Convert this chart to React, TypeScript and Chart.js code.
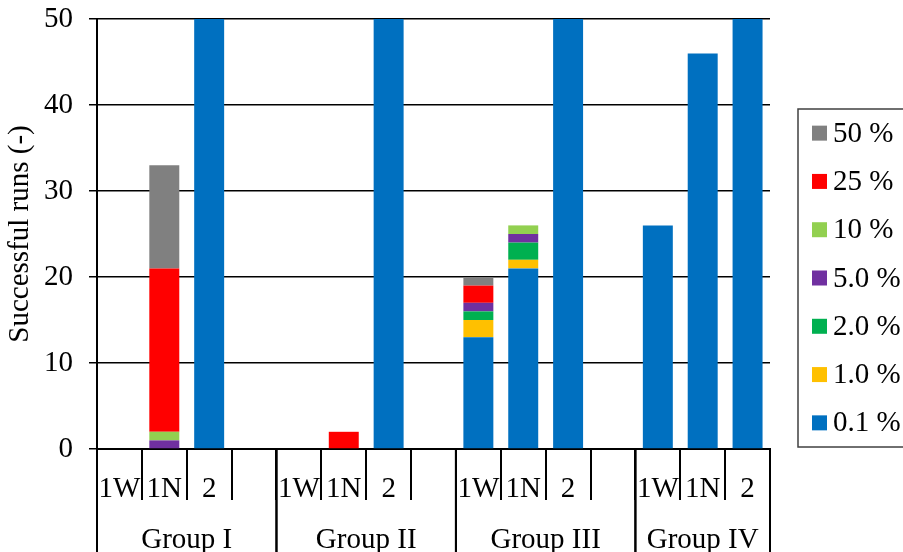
import React, { useEffect, useRef } from "react";
import { Chart, registerables } from "chart.js";

Chart.register(...registerables);

const categories = [
  "1W", "1N", "2", "",
  "1W", "1N", "2", "",
  "1W", "1N", "2", "",
  "1W", "1N", "2",
];
const groups = ["Group I", "Group II", "Group III", "Group IV"];
const groupSizes = [4, 4, 4, 3];

const s01 = [0, 0, 50, 0, 0, 0, 50, 0, 13, 21, 50, 0, 26, 46, 50];
const s10 = [0, 0, 0, 0, 0, 0, 0, 0, 2, 1, 0, 0, 0, 0, 0];
const s20 = [0, 0, 0, 0, 0, 0, 0, 0, 1, 2, 0, 0, 0, 0, 0];
const s50 = [0, 1, 0, 0, 0, 0, 0, 0, 1, 1, 0, 0, 0, 0, 0];
const s100 = [0, 1, 0, 0, 0, 0, 0, 0, 0, 1, 0, 0, 0, 0, 0];
const s250 = [0, 19, 0, 0, 0, 2, 0, 0, 2, 0, 0, 0, 0, 0, 0];
const s500 = [0, 12, 0, 0, 0, 0, 0, 0, 1, 0, 0, 0, 0, 0, 0];

const seriesLabels = ["0.1 %", "1.0 %", "2.0 %", "5.0 %", "10 %", "25 %", "50 %"];
const seriesValues = [s01, s10, s20, s50, s100, s250, s500];
const seriesColors = ["#0070C0", "#FFC000", "#00B050", "#7030A0", "#92D050", "#FF0000", "#808080"];

const yTicks = [0, 10, 20, 30, 40, 50];
const yTitle = "Successful runs (-)";

const FONT = '"Liberation Serif", "Times New Roman", serif';
const FS = 29;

const groupAxisPlugin = {
  id: "groupAxis",
  afterDraw(chart: any) {
    const { ctx, chartArea } = chart;
    const xs = chart.scales.x;
    const half = (xs.getPixelForValue(1) - xs.getPixelForValue(0)) / 2;
    const bottom = chart.height;
    ctx.save();
    ctx.strokeStyle = "#000";
    ctx.lineWidth = 2;
    ctx.fillStyle = "#000";
    ctx.font = `${FS}px ${FONT}`;
    ctx.textAlign = "center";
    ctx.textBaseline = "middle";
    let start = 0;
    groups.forEach((g, gi) => {
      const n = groupSizes[gi];
      const x0 = xs.getPixelForValue(start) - half;
      const x1 = xs.getPixelForValue(start + n - 1) + half;
      ctx.beginPath();
      ctx.moveTo(x0, chartArea.bottom);
      ctx.lineTo(x0, bottom);
      ctx.moveTo(x1, chartArea.bottom);
      ctx.lineTo(x1, bottom);
      ctx.stroke();
      ctx.fillText(g, (x0 + x1) / 2, chartArea.bottom + 91);
      start += n;
    });
    ctx.restore();
  },
};

const boxLegendPlugin = {
  id: "boxLegend",
  afterDraw(chart: any) {
    const { ctx, chartArea } = chart;
    const left = chartArea.right + 28;
    const top = 109;
    const bottomY = 447;
    ctx.save();
    ctx.strokeStyle = "#404040";
    ctx.lineWidth = 1.5;
    ctx.strokeRect(left, top, chart.width - left + 10, bottomY - top);
    ctx.font = `${FS}px ${FONT}`;
    ctx.textAlign = "left";
    ctx.textBaseline = "middle";
    const ds = chart.data.datasets.slice().reverse();
    const step = (bottomY - top) / ds.length;
    ds.forEach((d: any, i: number) => {
      const cy = top + step * (i + 0.5);
      ctx.fillStyle = d.backgroundColor;
      ctx.fillRect(left + 14, cy - 7.5, 15, 15);
      ctx.fillStyle = "#000";
      ctx.fillText(d.label, left + 35, cy + 1);
    });
    ctx.restore();
  },
};

export default function App() {
  const ref = useRef<HTMLCanvasElement | null>(null);
  useEffect(() => {
    if (!ref.current) return;
    const chart = new Chart(ref.current, {
      type: "bar",
      data: {
        labels: categories,
        datasets: seriesLabels.map((l, i) => ({
          label: l,
          data: seriesValues[i],
          backgroundColor: seriesColors[i],
          borderWidth: 0,
          barPercentage: 0.668,
          categoryPercentage: 1,
        })),
      },
      options: {
        responsive: false,
        animation: false,
        devicePixelRatio: 1,
        layout: { padding: { top: 19, right: 133, bottom: 0, left: 0 } },
        plugins: {
          legend: { display: false },
          tooltip: { enabled: false },
        },
        scales: {
          x: {
            stacked: true,
            offset: true,
            grid: {
              display: true,
              drawOnChartArea: false,
              drawTicks: true,
              tickLength: 51,
              offset: true,
              color: "#000",
              lineWidth: 2,
            },
            border: { display: true, color: "#000", width: 2 },
            ticks: {
              autoSkip: false,
              maxRotation: 0,
              minRotation: 0,
              padding: -28,
              color: "#000",
              font: { family: FONT, size: FS },
            },
            afterFit(scale: any) {
              scale.height = 103;
            },
          },
          y: {
            stacked: true,
            min: 0,
            max: 50,
            afterBuildTicks(scale: any) {
              scale.ticks = yTicks.map((v) => ({ value: v }));
            },
            grid: {
              color: "#000",
              lineWidth: 1.5,
              drawTicks: true,
              tickLength: 8,
            },
            border: { display: true, color: "#000", width: 2 },
            ticks: {
              padding: 16,
              color: "#000",
              font: { family: FONT, size: FS },
            },
            title: {
              display: true,
              text: yTitle,
              color: "#000",
              font: { family: FONT, size: FS },
              padding: { top: 3, bottom: 0 },
            },
            afterFit(scale: any) {
              scale.width = 97;
              scale.paddingTop = 0;
              scale.paddingBottom = 0;
            },
          },
        },
      },
      plugins: [groupAxisPlugin, boxLegendPlugin],
    });
    return () => chart.destroy();
  }, []);
  return (
    <div style={{ position: "fixed", left: 0, top: 0, width: 903, height: 552, background: "#fff" }}>
      <canvas ref={ref} width={903} height={552} style={{ display: "block" }} />
    </div>
  );
}
